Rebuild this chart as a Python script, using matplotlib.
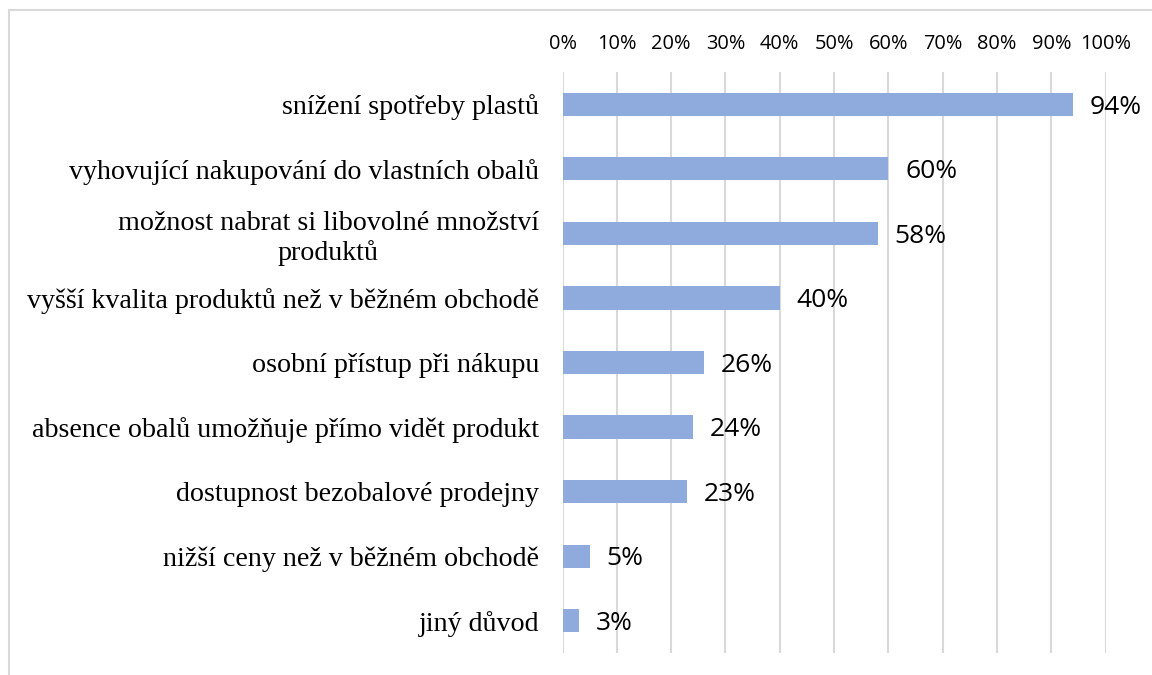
import matplotlib
matplotlib.use("Agg")
import matplotlib.pyplot as plt
from matplotlib.patches import Rectangle

categories = [
    "snížení spotřeby plastů",
    "vyhovující nakupování do vlastních obalů",
    "možnost nabrat si libovolné množství\nproduktů",
    "vyšší kvalita produktů než v běžném obchodě",
    "osobní přístup při nákupu",
    "absence obalů umožňuje přímo vidět produkt",
    "dostupnost bezobalové prodejny",
    "nižší ceny než v běžném obchodě",
    "jiný důvod",
]
values = [94, 60, 58, 40, 26, 24, 23, 5, 3]
tick_values = [0, 10, 20, 30, 40, 50, 60, 70, 80, 90, 100]
tick_labels = [f"{t}%" for t in tick_values]

W, H = 1152, 675
fig = plt.figure(figsize=(W / 100, H / 100), dpi=100)
fig.patch.set_facecolor("white")

# outer chart-area frame (runs off the right and bottom edges)
fig.patches.append(Rectangle((9 / W, -0.05), 1.2, 1 - 10 / H + 0.05,
                             transform=fig.transFigure, fill=False,
                             edgecolor="#d9d9d9", linewidth=1.5))

left, right = 562.5 / W, 1105.7 / W
top, bottom = 1 - 72 / H, 1 - 653 / H
ax = fig.add_axes([left, bottom, right - left, top - bottom])

n = len(categories)
ypos = list(range(n))
ax.barh(ypos, values, height=0.36, color="#8FAADC", zorder=3)
ax.set_xlim(0, 100)
ax.set_ylim(n - 0.5, -0.5)

ax.set_xticks(tick_values)
ax.set_xticklabels(tick_labels, fontsize=14.4, family="Open Sans")
ax.xaxis.tick_top()
ax.tick_params(axis="x", length=0, pad=13)
ax.grid(axis="x", color="#d9d9d9", linewidth=1.5, zorder=0)

ax.set_yticks(ypos)
ax.set_yticklabels(categories, fontsize=20.2, family="Liberation Serif",
                   multialignment="center")
ax.tick_params(axis="y", length=0, pad=17)

for s in ax.spines.values():
    s.set_visible(False)

for y, v in zip(ypos, values):
    ax.annotate(f"{v}%", xy=(v, y), xytext=(12, -2), textcoords="offset points",
                va="center", ha="left", fontsize=19, family="Open Sans")

fig.savefig("out.png", dpi=100)
